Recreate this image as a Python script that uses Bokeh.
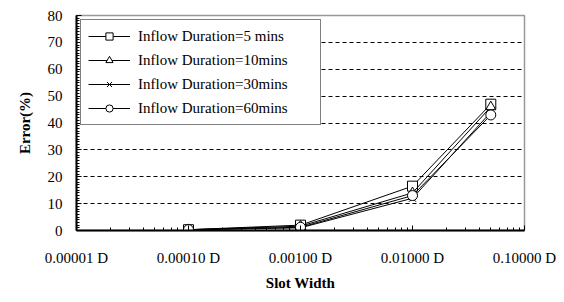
from bokeh.plotting import figure
from bokeh.models import (Range1d, FixedTicker, SingleIntervalTicker, CustomJSTickFormatter, Legend)
from bokeh.embed import file_html
from bokeh.resources import INLINE

slot_width = [0.0001, 0.001, 0.01, 0.05]
err_5 = [0.3, 2.0, 16.5, 47.0]
err_10 = [0.3, 1.6, 14.0, 46.0]
err_30 = [0.2, 1.0, 12.0, 44.0]
err_60 = [0.3, 1.2, 13.0, 43.0]
series_names = ["Inflow Duration=5 mins", "Inflow Duration=10mins",
                "Inflow Duration=30mins", "Inflow Duration=60mins"]
x_ticks = [1e-5, 1e-4, 1e-3, 1e-2, 1e-1]
y_grid_ticks = [10, 20, 30, 40, 50, 60, 70]

FONT = "Liberation Serif"

p = figure(width=556, height=294, x_axis_type="log", output_backend="svg",
           toolbar_location=None, x_range=Range1d(1e-5, 1e-1), y_range=Range1d(0, 80),
           min_border_left=76, min_border_right=32, min_border_top=15, min_border_bottom=64)

p.outline_line_color = "#999999"
p.outline_line_width = 1.5
p.background_fill_color = "white"
p.border_fill_color = "white"

# grids
p.xgrid.visible = False
p.ygrid.ticker = FixedTicker(ticks=y_grid_ticks)
p.ygrid.grid_line_color = "black"
p.ygrid.grid_line_dash = "4 3"
p.ygrid.grid_line_width = 1

# x axis
minor = [m * t for t in x_ticks[:-1] for m in range(2, 10)]
p.xaxis.ticker = FixedTicker(ticks=x_ticks, minor_ticks=minor)
p.xaxis.formatter = CustomJSTickFormatter(code="return tick.toFixed(5) + ' D';")
p.xaxis.axis_label = "Slot Width"
p.yaxis.axis_label = "Error(%)"
p.yaxis.ticker = SingleIntervalTicker(interval=10, num_minor_ticks=10)

for ax in (p.xaxis[0], p.yaxis[0]):
    ax.axis_line_color = "black"
    ax.axis_line_width = 2
    ax.major_tick_line_color = "black"
    ax.minor_tick_line_color = "black"
    ax.major_tick_in = 5
    ax.major_tick_out = 0
    ax.minor_tick_in = 3
    ax.minor_tick_out = 0
    ax.major_label_text_font = FONT
    ax.major_label_text_font_size = "15px"
    ax.major_label_text_color = "black"
    ax.axis_label_text_font = FONT
    ax.axis_label_text_font_size = "15px"
    ax.axis_label_text_font_style = "bold"
    ax.axis_label_text_color = "black"

p.xaxis.major_label_standoff = 19
p.xaxis.axis_label_standoff = 6
p.yaxis.major_label_standoff = 14
p.yaxis.axis_label_standoff = 12

markers = ["square", "triangle", "x", "circle"]
data = [err_5, err_10, err_30, err_60]
items = []
for name, ys, mk in zip(series_names, data, markers):
    l = p.line(slot_width, ys, line_color="black", line_width=1)
    s = p.scatter(slot_width, ys, marker=mk, size=10, fill_color="white",
                  line_color="black", line_width=1)
    items.append((name, [l, s]))

legend = Legend(items=items, location="top_left")
legend.border_line_color = "black"
legend.border_line_width = 1.5
legend.background_fill_color = "white"
legend.background_fill_alpha = 1
legend.label_text_font = FONT
legend.label_text_font_size = "15px"
legend.label_text_color = "black"
legend.padding = 7
legend.spacing = 6
legend.glyph_width = 42
legend.glyph_height = 18
legend.label_height = 18
legend.label_standoff = 8
legend.label_width = 175
legend.margin = 4
p.add_layout(legend, "center")

open("out.html", "w").write(file_html(p, INLINE))
